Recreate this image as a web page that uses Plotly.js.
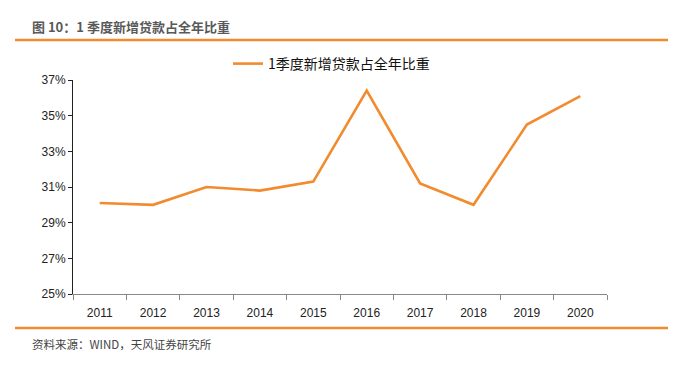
<!DOCTYPE html>
<html><head><meta charset="utf-8">
<script src="https://cdn.plot.ly/plotly-3.0.1.min.js"></script>
<style>html,body{margin:0;padding:0;background:#fff}#c{width:682px;height:370px}</style>
</head><body><div id="c"></div>
<script>
const years = ['2011','2012','2013','2014','2015','2016','2017','2018','2019','2020'];
const share = [30.1, 30.0, 31.0, 30.8, 31.3, 36.4, 31.2, 30.0, 34.5, 36.1];
const seriesName = '1季度新增贷款占全年比重';
const chartTitle = '图 10：1 季度新增贷款占全年比重';
const sourceText = '资料来源：WIND，天风证券研究所';
const yTicks = [25, 27, 29, 31, 33, 35, 37];

const L = 73, R = 607, T = 80, B = 294;
const px = x => (x - L) / (R - L);
const py = y => (B - y) / (B - T);
const orange = '#F28A2E';

const trace = {
  x: years, y: share, type: 'scatter', mode: 'lines', name: seriesName,
  line: {color: orange, width: 2.6}, showlegend: true, hoverinfo: 'skip'
};
const layout = {
  width: 682, height: 370,
  margin: {l: L, r: 682 - R, t: T, b: 370 - B, pad: 0},
  paper_bgcolor: '#fff', plot_bgcolor: '#fff',
  font: {family: 'Arial, "Liberation Sans", sans-serif', size: 12, color: '#222'},
  showlegend: true,
  legend: {orientation: 'h', x: px(228), xanchor: 'left', y: py(64), yanchor: 'middle',
    font: {family: '"Noto Sans CJK SC", sans-serif', size: 14, color: '#111'},
    bgcolor: 'rgba(0,0,0,0)', itemwidth: 30},
  xaxis: {type: 'category', range: [-0.5, years.length - 0.5], tickson: 'boundaries',
    ticks: 'outside', ticklen: 5, ticklabelstandoff: 8,
    tickcolor: '#888', showline: true, linecolor: '#888', linewidth: 1,
    showgrid: false, zeroline: false, fixedrange: true,
    tickfont: {size: 12, color: '#222'}},
  yaxis: {range: [25, 37], tickvals: yTicks, ticktext: yTicks.map(v => v + '%'),
    ticks: 'outside', ticklen: 4, tickcolor: '#222', showline: true, linecolor: '#222',
    linewidth: 1, showgrid: false, zeroline: false, fixedrange: true,
    tickfont: {size: 12, color: '#222'}},
  shapes: [
    {type: 'line', xref: 'paper', yref: 'paper', x0: px(15), x1: px(668), y0: py(40), y1: py(40),
     line: {color: orange, width: 2.5}},
    {type: 'line', xref: 'paper', yref: 'paper', x0: px(15), x1: px(668), y0: py(328), y1: py(328),
     line: {color: orange, width: 2.5}}
  ],
  annotations: [
    {text: '<b>' + chartTitle + '</b>', xref: 'paper', yref: 'paper', x: px(30), y: py(26),
     xanchor: 'left', yanchor: 'middle', showarrow: false,
     font: {family: '"Noto Sans CJK SC", sans-serif', size: 13, color: '#595959'}},
    {text: sourceText, xref: 'paper', yref: 'paper', x: px(30), y: py(344),
     xanchor: 'left', yanchor: 'middle', showarrow: false,
     font: {family: '"Noto Sans CJK SC", sans-serif', size: 11.5, color: '#444'}}
  ]
};
Plotly.newPlot('c', [trace], layout, {staticPlot: true, displayModeBar: false});
</script></body></html>
